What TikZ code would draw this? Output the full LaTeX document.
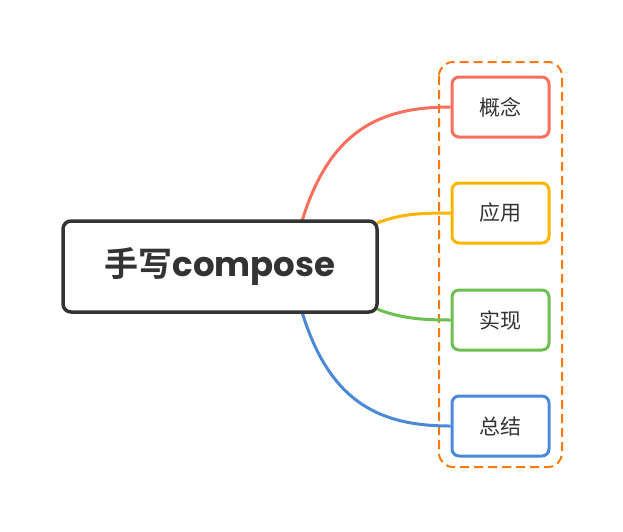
\documentclass[tikz,border=0pt]{standalone}
\usepackage{fontspec}
\newfontfamily\cjk{Noto Sans CJK SC}
\newfontfamily\cjkb{Noto Sans CJK SC Bold}
\newfontfamily\latb{Poppins Bold}
\definecolor{cred}{RGB}{250,110,92}
\definecolor{cyel}{RGB}{255,180,0}
\definecolor{cgrn}{RGB}{108,192,80}
\definecolor{cblu}{RGB}{74,137,216}
\definecolor{corg}{RGB}{255,120,10}
\definecolor{cdark}{RGB}{51,51,51}
\tikzset{
  mainbox/.style={draw=cdark, line width=3.5pt, rounded corners=8pt, fill=white,
    minimum width=314pt, minimum height=91pt, inner sep=0pt, text=cdark},
  leaf/.style={line width=3pt, rounded corners=7pt, fill=white,
    minimum width=97pt, minimum height=60pt, inner sep=0pt, text=cdark,
    font=\cjk\fontsize{21}{25}\selectfont},
  conn/.style={line width=3pt},
  grp/.style={draw=corg, line width=2pt, dash pattern=on 9pt off 5pt, rounded corners=14pt}
}
\begin{document}
\begin{tikzpicture}[x=1pt,y=-1pt]
\useasboundingbox (0,0) rectangle (623,531);
\draw[grp] (439,62) rectangle (562,467);
\coordinate (rs) at (302,221);
\coordinate (ys) at (377,223);
\coordinate (gs) at (377,309);
\coordinate (bs) at (302,312);
\node[leaf, draw=cred] (n1) at (500.5,107) {概念};
\node[leaf, draw=cyel] (n2) at (500.5,213) {应用};
\node[leaf, draw=cgrn] (n3) at (500.5,320) {实现};
\node[leaf, draw=cblu] (n4) at (500.5,426) {总结};
\draw[conn, cred] (rs) .. controls (330,130) and (380,107) .. (n1.west);
\draw[conn, cyel] (ys) .. controls (400,214) and (420,213) .. (n2.west);
\draw[conn, cgrn] (gs) .. controls (400,318) and (420,320) .. (n3.west);
\draw[conn, cblu] (bs) .. controls (330,403) and (380,426) .. (n4.west);
\node[mainbox] (m) at (220,266.5) {\fontsize{34}{40}\selectfont{\cjkb 手写}{\latb compose}};
\end{tikzpicture}
\end{document}
